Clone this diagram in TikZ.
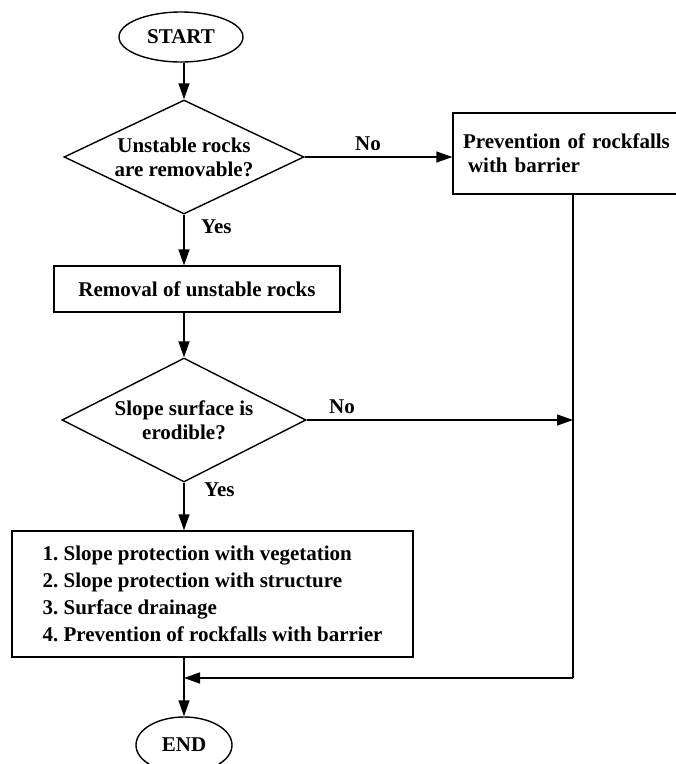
\documentclass[tikz,border=0pt]{standalone}
\usepackage{fontspec}
\setmainfont{Liberation Serif}
\usetikzlibrary{shapes.geometric,arrows.meta}
\frenchspacing
\begin{document}
\begin{tikzpicture}[x=1pt,y=-1pt,
  every node/.style={font=\fontsize{21}{24}\selectfont\bfseries, inner sep=0pt},
  line/.style={line width=1.4pt},
  arr/.style={line, -{Triangle[length=16pt,width=11pt]}},
  term/.style={draw, line, ellipse, minimum width=124pt, minimum height=50pt},
  decision/.style={draw, line, diamond, aspect=2.1, align=center},
  proc/.style={draw, line, rectangle},
  lbl/.style={anchor=west}]
\useasboundingbox (0,0) rectangle (676,764);
\clip (0,0) rectangle (676,764);

% terminals, decisions and process boxes
\node[term] (start) at (181,37) {START};
\node[decision, minimum width=240pt, minimum height=114pt] (d1) at (184,157)
  {Unstable rocks\\are removable?};
\node[proc, minimum width=250pt, minimum height=81pt, text width=230pt,
  align=left, inner xsep=10pt] (bar) at (578,153.5)
  {Prevention of rockfalls\\\hspace*{5pt}with barrier};
\node[proc, minimum width=286pt, minimum height=46pt] (rm) at (197,289)
  {Removal of unstable rocks};
\node[decision, minimum width=244pt, minimum height=124pt] (d2) at (184,420)
  {Slope surface is\\erodible?};
\node[proc, minimum width=401pt, minimum height=126pt,
  align=left, font=\fontsize{21}{27}\selectfont\bfseries] (act) at (212.5,594)
  {1. Slope protection with vegetation\\
   2. Slope protection with structure\\
   3. Surface drainage\\
   4. Prevention of rockfalls with barrier};
\node[term, minimum width=96pt, minimum height=56pt] (end) at (184,745) {END};

% branch labels
\node (no1) at (368,144) {No};
\node[lbl] (yes1) at (201,227) {Yes};
\node (no2) at (342,407) {No};
\node[lbl] (yes2) at (204,490) {Yes};

% bypass line on the right
\coordinate (vb) at (573,678);

% connectors
\draw[arr] (start.south -| d1.north) -- (d1.north);
\draw[arr] (d1.east) -- (bar.west |- d1.east);
\draw[arr] (d1.south) -- (d1.south |- rm.north);
\draw[arr] (rm.south -| d2.north) -- (d2.north);
\draw[arr] (d2.east) -- (d2.east -| vb);
\draw[arr] (d2.south) -- (d2.south |- act.north);
\draw[line] (bar.south -| vb) -- (vb);
\draw[arr] (vb) -- (vb -| end.north);
\draw[arr] (act.south -| end.north) -- (end.north);
\end{tikzpicture}
\end{document}
